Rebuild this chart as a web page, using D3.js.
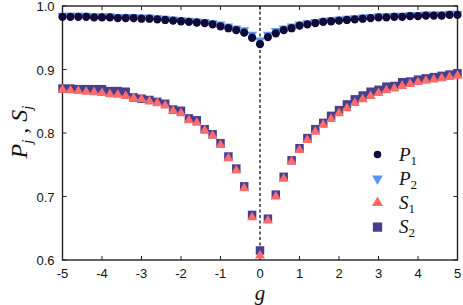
<!DOCTYPE html>
<html>
<head>
<meta charset="utf-8">
<script src="https://cdn.jsdelivr.net/npm/d3@7"></script>
<style>
    body { margin: 0; background: #fff; }
    .tick_label { font-family: 'Liberation Sans', Arial, sans-serif; font-size: 13px; fill: #111; }
    .math { font-family: 'Liberation Serif', 'Times New Roman', serif; font-style: italic; fill: #111; }
</style>
</head>
<body>
<div id="chart"></div>
<script>
let gValues = [-5, -4.8, -4.6, -4.4, -4.2, -4, -3.8, -3.6, -3.4, -3.2, -3, -2.8, -2.6, -2.4, -2.2, -2, -1.8, -1.6, -1.4, -1.2, -1, -0.8, -0.6, -0.4, -0.2,
    0, 0.2, 0.4, 0.6, 0.8, 1, 1.2, 1.4, 1.6, 1.8, 2, 2.2, 2.4, 2.6, 2.8, 3, 3.2, 3.4, 3.6, 3.8, 4, 4.2, 4.4, 4.6, 4.8, 5]

let P1 = [0.983, 0.983, 0.983, 0.983, 0.982, 0.982, 0.982, 0.981, 0.981, 0.981, 0.980, 0.980, 0.979, 0.978, 0.977, 0.976, 0.975, 0.974, 0.973, 0.971, 0.968, 0.965, 0.962, 0.958, 0.950,
    0.940, 0.951, 0.957, 0.962, 0.965, 0.969, 0.971, 0.973, 0.975, 0.976, 0.977, 0.978, 0.979, 0.980, 0.981, 0.982, 0.982, 0.983, 0.983, 0.984, 0.984, 0.985, 0.985, 0.985, 0.986, 0.986]

let P2 = [0.985, 0.985, 0.985, 0.985, 0.984, 0.984, 0.984, 0.983, 0.983, 0.983, 0.982, 0.982, 0.981, 0.980, 0.979, 0.978, 0.977, 0.976, 0.975, 0.973, 0.971, 0.968, 0.965, 0.962, 0.955,
    0.946, 0.955, 0.961, 0.965, 0.968, 0.971, 0.973, 0.975, 0.977, 0.978, 0.979, 0.980, 0.981, 0.982, 0.983, 0.984, 0.984, 0.985, 0.985, 0.986, 0.986, 0.987, 0.987, 0.987, 0.988, 0.988]

let S1 = [0.868, 0.867, 0.866, 0.865, 0.864, 0.863, 0.861, 0.860, 0.858, 0.855, 0.853, 0.850, 0.847, 0.843, 0.835, 0.831, 0.820, 0.816, 0.804, 0.796, 0.781, 0.760, 0.741, 0.713, 0.667,
    0.607, 0.662, 0.700, 0.728, 0.755, 0.773, 0.789, 0.802, 0.813, 0.822, 0.831, 0.839, 0.847, 0.853, 0.858, 0.863, 0.867, 0.870, 0.874, 0.877, 0.880, 0.882, 0.884, 0.886, 0.888, 0.890]

let S2 = [0.870, 0.870, 0.869, 0.869, 0.869, 0.869, 0.866, 0.866, 0.865, 0.856, 0.854, 0.852, 0.849, 0.846, 0.837, 0.835, 0.823, 0.820, 0.806, 0.798, 0.784, 0.763, 0.744, 0.716, 0.671,
    0.615, 0.665, 0.703, 0.731, 0.757, 0.776, 0.792, 0.806, 0.816, 0.827, 0.836, 0.845, 0.853, 0.859, 0.865, 0.868, 0.873, 0.874, 0.880, 0.881, 0.884, 0.886, 0.888, 0.890, 0.892, 0.894]

let xTicks = [-5, -4, -3, -2, -1, 0, 1, 2, 3, 4, 5]
let yTicks = [0.6, 0.7, 0.8, 0.9, 1.0]

let series = [
    { name: 'S2', label: 'S', sub: '2', values: S2, symbol: d3.symbolSquare, size: 72, rotate: 0, color: '#463e8e' },
    { name: 'S1', label: 'S', sub: '1', values: S1, symbol: d3.symbolTriangle, size: 44, rotate: 0, color: '#fd6b6b' },
    { name: 'P2', label: 'P', sub: '2', values: P2, symbol: d3.symbolTriangle, size: 42, rotate: 180, color: '#5f97ec' },
    { name: 'P1', label: 'P', sub: '1', values: P1, symbol: d3.symbolCircle, size: 54, rotate: 0, color: '#0e0b3b' }
]
let legendOrder = ['P1', 'P2', 'S1', 'S2']

let svgWidth = 463
let svgHeight = 305
let padding = { 'left': 62.5, 'right': 5.5, 'top': 6, 'bottom': 45 }

let svg = d3.select('#chart').append('svg')
    .attr('width', svgWidth)
    .attr('height', svgHeight)

let x = d3.scaleLinear()
    .domain([-5, 5])
    .range([padding.left, svgWidth - padding.right])
let y = d3.scaleLinear()
    .domain([0.6, 1.0])
    .range([svgHeight - padding.bottom, padding.top])

let axisColor = '#222'

// frame
svg.append('rect')
    .attr('x', x(-5))
    .attr('y', y(1.0))
    .attr('width', x(5) - x(-5))
    .attr('height', y(0.6) - y(1.0))
    .attr('fill', 'none')
    .attr('stroke', axisColor)
    .attr('stroke-width', 1.4)

// inward ticks on all four sides
let tickLen = 4
svg.append('g')
    .selectAll('line.xb')
    .data(xTicks)
    .enter()
    .append('line')
    .attr('x1', d => x(d)).attr('x2', d => x(d))
    .attr('y1', y(0.6)).attr('y2', y(0.6) - tickLen)
    .attr('stroke', axisColor).attr('stroke-width', 1)
svg.append('g')
    .selectAll('line.xt')
    .data(xTicks)
    .enter()
    .append('line')
    .attr('x1', d => x(d)).attr('x2', d => x(d))
    .attr('y1', y(1.0)).attr('y2', y(1.0) + tickLen)
    .attr('stroke', axisColor).attr('stroke-width', 1)
svg.append('g')
    .selectAll('line.yl')
    .data(yTicks)
    .enter()
    .append('line')
    .attr('x1', x(-5)).attr('x2', x(-5) + tickLen)
    .attr('y1', d => y(d)).attr('y2', d => y(d))
    .attr('stroke', axisColor).attr('stroke-width', 1)
svg.append('g')
    .selectAll('line.yr')
    .data(yTicks)
    .enter()
    .append('line')
    .attr('x1', x(5)).attr('x2', x(5) - tickLen)
    .attr('y1', d => y(d)).attr('y2', d => y(d))
    .attr('stroke', axisColor).attr('stroke-width', 1)

// tick labels
svg.append('g')
    .selectAll('text')
    .data(xTicks)
    .enter()
    .append('text')
    .attr('class', 'tick_label')
    .attr('x', d => x(d))
    .attr('y', y(0.6) + 18)
    .attr('text-anchor', 'middle')
    .text(d => d)
svg.append('g')
    .selectAll('text')
    .data(yTicks)
    .enter()
    .append('text')
    .attr('class', 'tick_label')
    .attr('x', x(-5) - 8)
    .attr('y', d => y(d) + 5)
    .attr('text-anchor', 'end')
    .text(d => d.toFixed(1))

// dashed line at g = 0
svg.append('line')
    .attr('x1', x(0)).attr('x2', x(0))
    .attr('y1', y(1.0)).attr('y2', y(0.6))
    .attr('stroke', '#111')
    .attr('stroke-width', 1.3)
    .attr('stroke-dasharray', '3,2.5')

// markers
series.forEach(s => {
    svg.append('g')
        .selectAll('path')
        .data(s.values)
        .enter()
        .append('path')
        .attr('d', d3.symbol().type(s.symbol).size(s.size))
        .attr('transform', (d, i) => `translate(${x(gValues[i])}, ${y(d)}) rotate(${s.rotate})`)
        .attr('fill', s.color)
})

// axis labels
let yLabel = svg.append('text')
    .attr('class', 'math')
    .attr('transform', `translate(${27}, ${132}) rotate(-90)`)
    .attr('text-anchor', 'middle')
    .attr('font-size', '24px')
yLabel.append('tspan').text('P')
yLabel.append('tspan').attr('font-size', '15px').attr('dy', 5).text('j')
yLabel.append('tspan').attr('dy', -5).attr('font-style', 'normal').text(' , ')
yLabel.append('tspan').text('S')
yLabel.append('tspan').attr('font-size', '15px').attr('dy', 5).text('j')

svg.append('text')
    .attr('class', 'math')
    .attr('x', x(0))
    .attr('y', 300)
    .attr('text-anchor', 'middle')
    .attr('font-size', '21px')
    .text('g')

// legend
let legend = svg.append('g')
legendOrder.forEach((name, k) => {
    let s = series.find(d => d.name === name)
    let ly = 154.5 + k * 24.2
    legend.append('path')
        .attr('d', d3.symbol().type(s.symbol).size(s.name === 'P1' ? 44 : s.size * 1.2))
        .attr('transform', `translate(${377.5}, ${ly}) rotate(${s.rotate})`)
        .attr('fill', s.color)
    let t = legend.append('text')
        .attr('class', 'math')
        .attr('x', 399)
        .attr('y', ly + 6)
        .attr('font-size', '19px')
    t.append('tspan').text(s.label)
    t.append('tspan').attr('font-size', '13px').attr('font-style', 'normal').attr('dy', 4).text(s.sub)
})
</script>
</body>
</html>
